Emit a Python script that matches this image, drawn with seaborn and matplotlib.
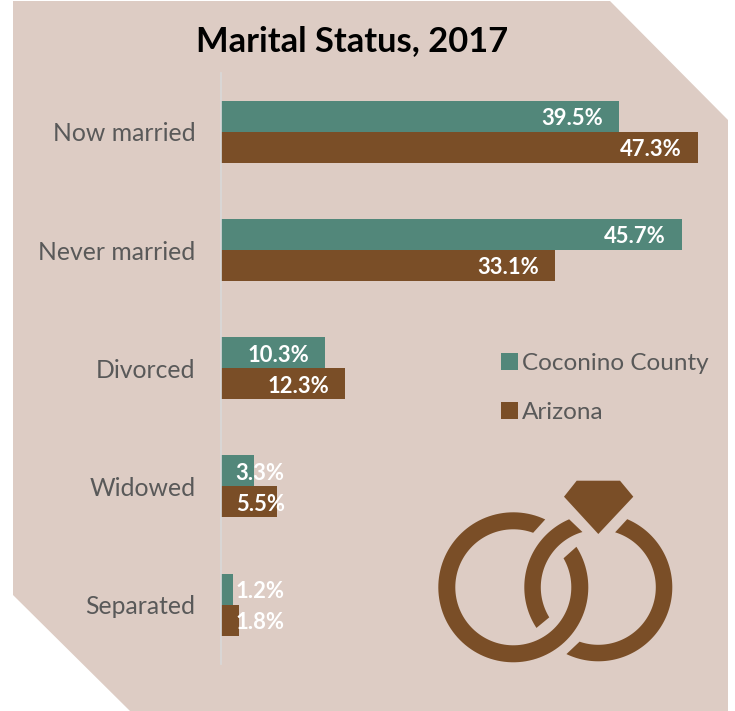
import numpy as np
import pandas as pd
import matplotlib
matplotlib.use('Agg')
import matplotlib.pyplot as plt
from matplotlib.patches import Polygon
import seaborn as sns

# data
categories = ['Now married', 'Never married', 'Divorced', 'Widowed', 'Separated']
coconino = [39.5, 45.7, 10.3, 3.3, 1.2]
arizona = [47.3, 33.1, 12.3, 5.5, 1.8]
series_names = ['Coconino County', 'Arizona']

W, H = 735, 711
panel_color = '#DDCCC4'
teal = '#52877A'
brown = '#7A4E27'
gray = '#595959'

sns.set_style('white')
plt.rcParams['font.family'] = ['Lato', 'DejaVu Sans']

df = pd.DataFrame({
    'status': categories * 2,
    'pct': coconino + arizona,
    'area': [series_names[0]] * 5 + [series_names[1]] * 5,
})

fig = plt.figure(figsize=(W / 100, H / 100), dpi=100, facecolor='white')

# background layer in pixel coordinates
bg = fig.add_axes([0, 0, 1, 1])
bg.set_xlim(0, W)
bg.set_ylim(H, 0)
bg.axis('off')
bg.add_patch(Polygon([(13, 1), (610, 1), (728, 120), (728, 711), (130, 711), (13, 595)],
                     closed=True, fc=panel_color, ec='none'))


def arc_piece(cx, cy, r_out, r_in, out_a, in_a):
    # ring segment, the ends are cut at a slant so the angles differ per edge
    a1 = np.radians(np.linspace(out_a[0], out_a[1], 120))
    a2 = np.radians(np.linspace(in_a[1], in_a[0], 120))
    xs = np.r_[cx + r_out * np.cos(a1), cx + r_in * np.cos(a2)]
    ys = np.r_[cy - r_out * np.sin(a1), cy - r_in * np.sin(a2)]
    bg.add_patch(Polygon(np.c_[xs, ys], closed=True, fc=brown, ec='none'))


# rings icon
arc_piece(513.3, 587.3, 75, 58, (64.8, 392.7), (70, 390))
arc_piece(598.3, 587.3, 74, 57.5, (113.2, 213.3), (106, 211.5))
arc_piece(598.3, 587.3, 74, 57.5, (67, -115.5), (73, -109))
bg.add_patch(Polygon([(576.7, 480.7), (620, 480.7), (633.3, 496.7), (598.3, 534), (564, 496.7)],
                     closed=True, fc=brown, ec='none'))

# chart
ax = fig.add_axes([221.2 / W, 1 - 663.7 / H, 494 / W, 591 / H])
ax.patch.set_alpha(0)
sns.barplot(data=df, x='pct', y='status', hue='area', order=categories,
            hue_order=series_names, palette=[teal, brown], orient='h',
            width=0.525, gap=0, saturation=1, linewidth=0, ax=ax)
ax.set_xlim(0, 49)
ax.set_ylim(4.5, -0.5)
ax.set_xlabel('')
ax.set_ylabel('')
ax.set_xticks([])
ax.tick_params(axis='y', length=0, pad=18.5, labelsize=17.8, labelcolor=gray)
sns.despine(ax=ax, top=True, right=True, bottom=True)
ax.spines['left'].set_color('#D9D9D9')
ax.spines['left'].set_linewidth(1.2)

# value labels, small bars keep the label at a fixed place
for cont in ax.containers[:2]:
    for bar in cont:
        v = bar.get_width()
        ax.text(max(v - 1.6, 6.3), bar.get_y() + bar.get_height() / 2 + 0.02, f'{v:.1f}%',
                ha='right', va='center', color='white', fontweight='bold', fontsize=15.8)

leg = ax.legend(loc='upper left', bbox_to_anchor=(0.567, 0.525), frameon=False, fontsize=17.5,
                handlelength=0.7, handleheight=0.7, handletextpad=0.15, labelspacing=1.15,
                borderpad=0, borderaxespad=0, labelcolor=gray)

fig.text(352 / W, 1 - 41 / H, 'Marital Status, 2017', ha='center', va='center',
         fontsize=24.8, fontweight='bold', color='black')

fig.savefig('out.png', dpi=100, facecolor='white')
